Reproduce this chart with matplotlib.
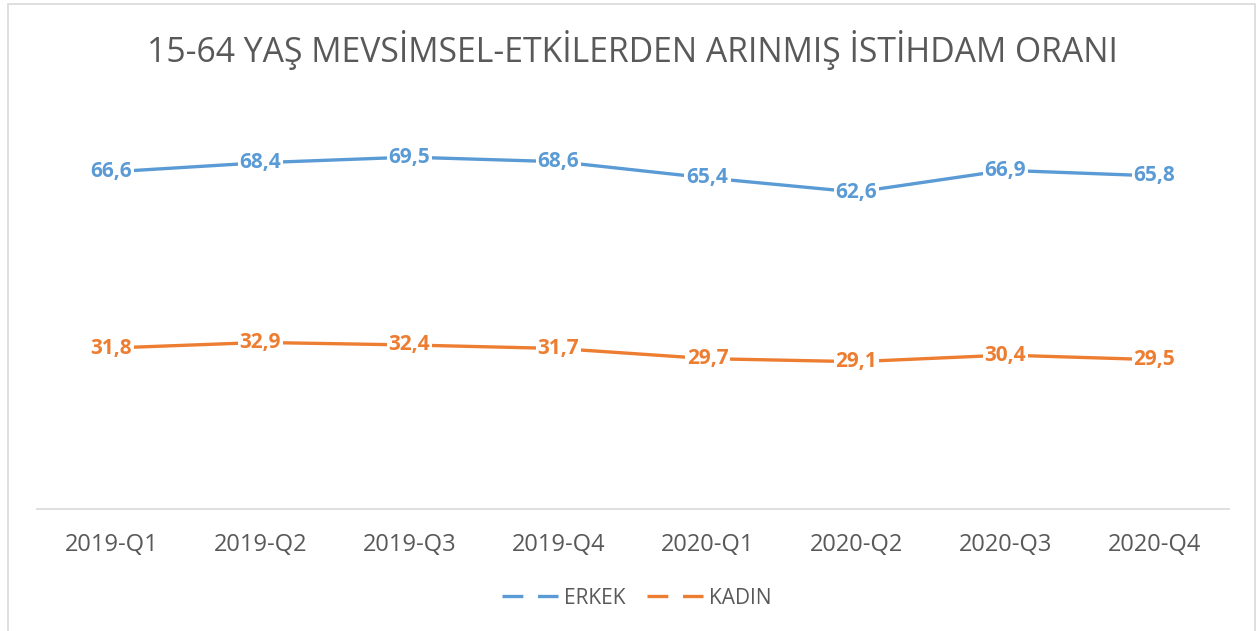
import matplotlib
matplotlib.use("Agg")
import matplotlib.pyplot as plt
from matplotlib.lines import Line2D
from matplotlib.patches import Rectangle

categories = ["2019-Q1", "2019-Q2", "2019-Q3", "2019-Q4", "2020-Q1", "2020-Q2", "2020-Q3", "2020-Q4"]
erkek = [66.6, 68.4, 69.5, 68.6, 65.4, 62.6, 66.9, 65.8]
kadin = [31.8, 32.9, 32.4, 31.7, 29.7, 29.1, 30.4, 29.5]
title = "15-64 YAŞ MEVSİMSEL-ETKİLERDEN ARINMIŞ İSTİHDAM ORANI"

BLUE = "#5B9BD5"
ORANGE = "#ED7D31"
GRAY = "#595959"
FONT = ["Open Sans", "DejaVu Sans"]
plt.rcParams["font.family"] = FONT

fig = plt.figure(figsize=(12.58, 6.31), dpi=100)
fig.patch.set_facecolor("white")
fig.add_artist(Rectangle((8/1258, -0.01), (1255-8)/1258, 1 - 4/631 + 0.01,
                         transform=fig.transFigure, fill=False, edgecolor="#D9D9D9", lw=1.2))

ax = fig.add_axes([37/1258, 1 - 509/631, (1229-37)/1258, (509-104)/631])
x = list(range(len(categories)))
for vals, col in [(erkek, BLUE), (kadin, ORANGE)]:
    ax.plot(x, vals, color=col, lw=2.4, solid_capstyle="round", zorder=2)
    for xi, v in zip(x, vals):
        ax.text(xi, v, f"{v:.1f}".replace(".", ","), ha="center", va="center",
                color=col, fontsize=15, fontweight="bold", zorder=3,
                bbox=dict(boxstyle="square,pad=0.1", fc="white", ec="none"))

ax.set_xlim(-0.5, len(categories) - 0.5)
ax.set_ylim(0, 80)
ax.set_xticks(x)
ax.set_xticklabels(categories, fontsize=17, color=GRAY)
ax.tick_params(axis="x", length=0, pad=17)
ax.set_yticks([])
for s in ["top", "right", "left"]:
    ax.spines[s].set_visible(False)
ax.spines["bottom"].set_color("#D9D9D9")
ax.spines["bottom"].set_linewidth(1.2)

fig.text(632/1258, 1 - 50/631, title, ha="center", va="center", fontsize=24.3, color=GRAY)

handles = [Line2D([], [], color=BLUE, lw=2.4, linestyle=(0, (6.25, 4.4))),
           Line2D([], [], color=ORANGE, lw=2.4, linestyle=(0, (6.25, 4.4)))]
fig.legend(handles, ["ERKEK", "KADIN"], loc="center", bbox_to_anchor=(637/1258, 1 - 598/631),
           ncol=2, frameon=False, fontsize=15, labelcolor=GRAY, handlelength=2.67,
           handletextpad=0.3, columnspacing=1.05)

fig.savefig("out.png", dpi=100, facecolor="white")
